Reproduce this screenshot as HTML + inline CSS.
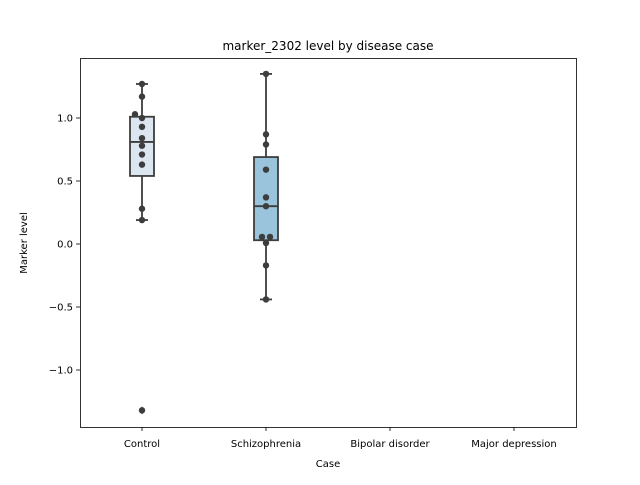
<!DOCTYPE html>
<html><head><meta charset="utf-8"><style>
body{margin:0;background:#fff;}
svg text{font-family:"DejaVu Sans","Liberation Sans",sans-serif;font-size:10px;fill:#000;}
</style></head><body>
<svg id="chart" width="640" height="480" xmlns="http://www.w3.org/2000/svg">
<rect width="640" height="480" fill="#fff"/>
<text x="328" y="50" text-anchor="middle" style="font-size:12px">marker_2302 level by disease case</text>
<text x="328" y="467" text-anchor="middle">Case</text>
<text transform="translate(27,243) rotate(-90)" text-anchor="middle">Marker level</text>
<g id="plot"></g>
<rect x="80.5" y="58.5" width="496" height="369" fill="none" stroke="#000" stroke-width="0.8"/>
</svg>
<script>
const categories=["Control","Schizophrenia","Bipolar disorder","Major depression"];
const q1=[0.54,0.03,null,null];
const median=[0.81,0.30,null,null];
const q3=[1.01,0.69,null,null];
const whiskerLow=[0.19,-0.44,null,null];
const whiskerHigh=[1.27,1.35,null,null];
const outliers=[[-1.32],[],[],[]];
const points=[[1.27,1.17,1.03,1.0,0.93,0.84,0.78,0.71,0.63,0.28,0.19,-1.32],[1.35,0.87,0.79,0.59,0.37,0.30,0.056,0.056,0.008,-0.17,-0.44],[],[]];
const yTicks=[-1.0,-0.5,0.0,0.5,1.0];
const colors=["#dbe6f1","#9ac3dc","#5a9fcd","#2a6fb0"];
const NS="http://www.w3.org/2000/svg";
const g=document.getElementById("plot");
function y(v){return 244-126*v;}
function x(i){return 142+124*i;}
function el(t,a){const e=document.createElementNS(NS,t);for(const k in a)e.setAttribute(k,a[k]);g.appendChild(e);return e;}
yTicks.forEach(t=>{
  const l=el("line",{x1:76,x2:80,y1:y(t),y2:y(t),stroke:"#000","stroke-width":0.8});
  
  
  const tx=el("text",{x:73,y:y(t)+3.5,"text-anchor":"end"});
  tx.textContent=(t<0?"\u2212":"")+Math.abs(t).toFixed(1);
  
  
});
categories.forEach((c,i)=>{
  const l=el("line",{x1:x(i),x2:x(i),y1:427,y2:431,stroke:"#000","stroke-width":0.8});
  
  
  const tx=el("text",{x:x(i),y:447,"text-anchor":"middle"});
  tx.textContent=c;
  
  
  if(q1[i]===null)return;
  const st={stroke:"#3d3d3d","stroke-width":1.8};
  const w1=el("line",Object.assign({x1:x(i),x2:x(i),y1:y(q1[i]),y2:y(whiskerLow[i])},st));
  
  
  const w2=el("line",Object.assign({x1:x(i),x2:x(i),y1:y(q3[i]),y2:y(whiskerHigh[i])},st));
  
  
  [whiskerLow[i],whiskerHigh[i]].forEach(v=>{
    const cp=el("line",Object.assign({x1:x(i)-6,x2:x(i)+6,y1:y(v),y2:y(v)},st));
    
    
  });
  const b=el("rect",Object.assign({x:x(i)-12,y:y(q3[i]),width:24,height:y(q1[i])-y(q3[i]),fill:colors[i]},st));
  
  
  const m=el("line",Object.assign({x1:x(i)-12,x2:x(i)+12,y1:y(median[i]),y2:y(median[i])},st));
  
  
  outliers[i].forEach(v=>{
    const o=el("path",{d:`M${x(i)} ${y(v)-4}L${x(i)+3} ${y(v)}L${x(i)} ${y(v)+4}L${x(i)-3} ${y(v)}Z`,fill:"#3d3d3d"});
    
    
  });
  const seen={};
  points[i].forEach(v=>{
    const k=v.toFixed(2);let off=0;
    if(seen[k]!==undefined){seen[k]++;off=4;}else{seen[k]=0;if(points[i].filter(p=>p.toFixed(2)===k).length>1)off=-4;}
    const near=points[i].filter(p=>p!==v&&Math.abs(p-v)<0.035).length;
    if(i===0&&near&&v>1.01)off=-7;
    const p=el("circle",{cx:x(i)+off,cy:y(v),r:3.2,fill:"#3d3d3d"});
    
    
  });
});
</script>
</body></html>
